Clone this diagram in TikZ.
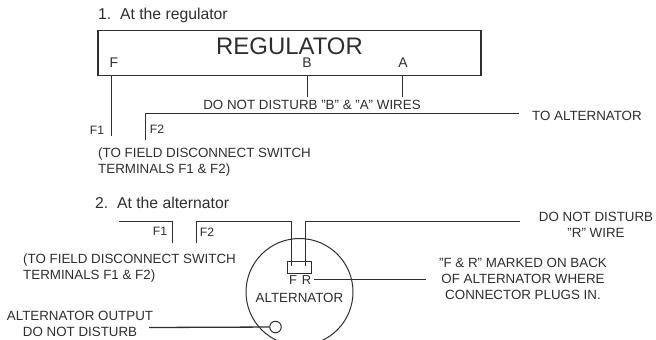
\documentclass[tikz,border=0pt]{standalone}
\usepackage{fontspec}
\setmainfont{Liberation Sans}
\usepackage{tikz}
\definecolor{ink}{gray}{0.18}
\tikzset{
	lbl/.style={inner sep=0pt,text=ink,font=\fontsize{13.4}{16}\selectfont,align=center},
	lblleft/.style={lbl,align=left,anchor=west},
	head/.style={lblleft,font=\fontsize{15.8}{18}\selectfont},
	term/.style={lbl,font=\fontsize{14}{16}\selectfont},
	small/.style={lbl,font=\fontsize{12.2}{16}\selectfont},
	wire/.style={draw=ink,line width=1.3bp},
	outline/.style={draw=ink,line width=1bp,inner sep=0pt}
}
\begin{document}
\begin{tikzpicture}
			[x=1bp,y=-1bp]
			\clip (0,0) rectangle (656,339);
			\useasboundingbox (0,0) rectangle (656,339);
			% regulator
			\node[head] (t1) at (98,15.5) {1.\ \ At the regulator};
			\node[wire,rectangle,inner sep=0pt,minimum width=383bp,minimum height=45bp] (reg) at (289.5,53) {};
			\node[lbl,font=\fontsize{24}{26}\selectfont] (regname) at (289.5,46) {REGULATOR};
			\node[term] (rf) at (114,63) {F};
			\node[term] (rb) at (307,63) {B};
			\node[term] (ra) at (403,63) {A};
			\node[lbl] (dnd) at (312,105) {DO NOT DISTURB "B" \& "A" WIRES};
			\node[lblleft] (toalt) at (532,116) {TO ALTERNATOR};
			\node[small] (rf1) at (97,130.5) {F1};
			\node[small] (rf2) at (157,129) {F2};
			\node[lblleft] (rnote) at (98,162) {(TO FIELD DISCONNECT SWITCH\\TERMINALS F1 \& F2)};
			
			\coordinate (a1) at (111.5,75.5);
			\coordinate (a2) at (111.5,136);
			\coordinate (b1) at (307.5,75.5);
			\coordinate (b2) at (307.5,97);
			\coordinate (c1) at (402.5,75.5);
			\coordinate (c2) at (402.5,97);
			\coordinate (d1) at (145.5,140);
			\coordinate (d2) at (519,113.5);
			
			\foreach \from/\to in 
			{a1/a2, b1/b2, c1/c2}
			\draw[wire] (\from) -- (\to);
			\draw[wire] (d1) |- (d2);
			
			% alternator
			\node[head] (t2) at (95,203) {2.\ \ At the alternator};
			\node[outline,circle,minimum size=107bp] (alt) at (299.5,292) {};
			\node[outline,rectangle,minimum width=24bp,minimum height=12bp] (plug) at (299.5,267) {};
			\node[outline,circle,minimum size=11.5bp] (out) at (275.5,327) {};
			\node[lbl] (altname) at (299.5,298) {ALTERNATOR};
			\node[term,font=\fontsize{13}{16}\selectfont] (af) at (293,280.5) {F};
			\node[term,font=\fontsize{13}{16}\selectfont] (ar) at (306.5,280.5) {R};
			\node[small] (af1) at (160,231) {F1};
			\node[small] (af2) at (207,232) {F2};
			\node[lblleft] (anote) at (23,268.5) {(TO FIELD DISCONNECT SWITCH\\TERMINALS F1 \& F2)};
			\node[lbl] (outnote) at (80,323.5) {ALTERNATOR OUTPUT\\DO NOT DISTURB};
			\node[lbl] (rnotea) at (596,225) {DO NOT DISTURB\\"R" WIRE};
			\node[lbl] (rnoteb) at (523,279) {"F \& R" MARKED ON BACK\\OF ALTERNATOR WHERE\\CONNECTOR PLUGS IN.};
			
			\coordinate (e1) at (119,221.5);
			\coordinate (e2) at (172.5,243);
			\coordinate (g1) at (196.5,243);
			\coordinate (g2) at (291.5,221.5);
			\coordinate (g3) at (291.5,266);
			\coordinate (h1) at (305.5,266);
			\coordinate (h2) at (520,221.5);
			\coordinate (i1) at (314,279.5);
			\coordinate (i2) at (426,279.5);
			\coordinate (j1) at (149,327.5);
			
			\draw[wire] (e1) -| (e2);
			\draw[wire] (g1) |- (g2) -- (g3);
			\draw[wire] (h1) |- (h2);
			\foreach \from/\to in 
			{i1/i2, j1/out}
			\draw[wire] (\from) -- (\to);
\end{tikzpicture}
\end{document}
